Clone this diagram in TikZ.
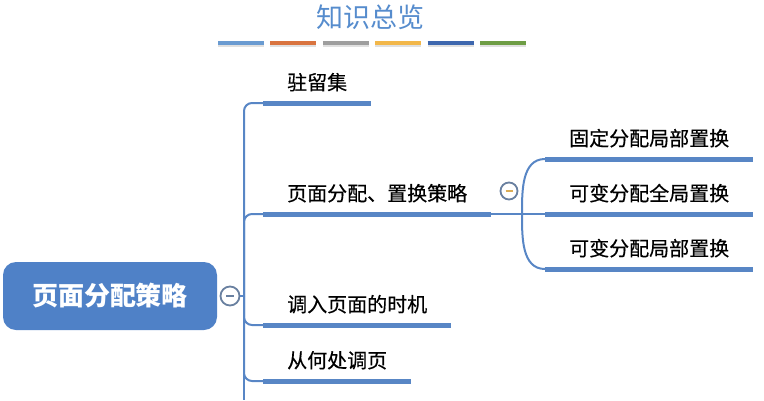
\documentclass[tikz,border=0pt]{standalone}
\usepackage{fontspec}
\newfontfamily\cjk{Noto Sans CJK SC}
\newfontfamily\cjktopic[FakeBold=0.4]{Noto Sans CJK SC}
\definecolor{mapblue}{RGB}{79,129,199}
\definecolor{linkblue}{RGB}{88,134,197}
\definecolor{titleblue}{RGB}{86,140,205}
\definecolor{foldgray}{RGB}{105,128,160}
\definecolor{barone}{RGB}{106,155,209}
\definecolor{bartwo}{RGB}{217,116,63}
\definecolor{barthree}{RGB}{158,158,158}
\definecolor{barfour}{RGB}{242,183,74}
\definecolor{barfive}{RGB}{62,103,174}
\definecolor{barsix}{RGB}{110,157,69}
\begin{document}
\begin{tikzpicture}[x=1pt,y=-1pt,
		topic/.style={font=\cjktopic\fontsize{20}{24}\selectfont, anchor=south west, inner xsep=24pt, inner ysep=13pt, text depth=0pt},
		bar/.style={line width=5pt, linkblue},
		stem/.style={line width=2pt, linkblue},
		fold/.style={circle, draw=foldgray, line width=1.8pt, fill=white, inner sep=0pt}]
				\useasboundingbox (0,0) rectangle (764,400);
				\node [font=\cjk\fontsize{27}{30}\selectfont, text=titleblue] (title) at (370,17) {知识总览};
				\foreach \c [count=\i from 0] in {barone,bartwo,barthree,barfour,barfive,barsix} {
					\draw [line width=4pt, black!12] (218+\i*52.4,45) -- ++(46,0);
					\draw [line width=4pt, \c] (218+\i*52.4,43) -- ++(46,0);
				}

				\node [fill=mapblue, rounded corners=13pt, minimum width=214pt, minimum height=68pt, text=white, font=\cjk\bfseries\fontsize{26}{30}\selectfont] (root) at (110,296) {页面分配策略};
				\node [fold, minimum size=19pt] (fold1) at (230,296) {};
				\draw [line width=1.8pt, foldgray] ([xshift=-4pt]fold1.center) -- ([xshift=4pt]fold1.center);
				\coordinate (trunk) at (244,296);
				\coordinate (cut) at (244,400);
				\draw [stem] (fold1.east) -- (trunk) -- (cut);

				\node [topic] (resident) at (263,103) {驻留集};
				\node [topic] (policy) at (263,214) {页面分配、置换策略};
				\node [topic] (timing) at (263,325) {调入页面的时机};
				\node [topic] (source) at (263,381) {从何处调页};
				\foreach \n in {resident,policy,timing,source} {
					\draw [stem, rounded corners=8pt] (trunk) |- (\n.south west);
					\draw [bar] (\n.south west) -- (\n.south east);
				}

				% fixed / variable allocation
				\node [topic] (fixlocal) at (545,159) {固定分配局部置换};
				\node [topic] (varglobal) at (545,214) {可变分配全局置换};
				\node [topic] (varlocal) at (545,269) {可变分配局部置换};
				\coordinate (fork) at (522,214);
				\draw [stem] (policy.south east) -- (varglobal.south west);
				\draw [stem] (fixlocal.south west) to [out=180,in=90] (fork) to [out=-90,in=180] (varlocal.south west);
				\foreach \n in {fixlocal,varglobal,varlocal}
					\draw [bar] (\n.south west) -- (\n.south east);
				\node [fold, minimum size=17pt] (fold2) at (509,191) {};
				\draw [line width=1.5pt, barfour!80!gray] ([xshift=-3.5pt]fold2.center) -- ([xshift=3.5pt]fold2.center);
			\end{tikzpicture}
\end{document}
